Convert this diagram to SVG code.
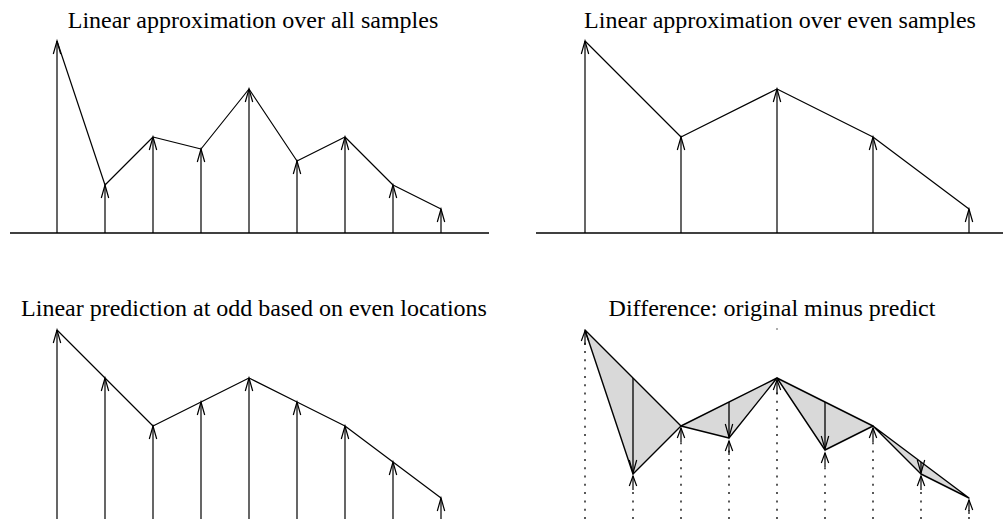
<svg xmlns="http://www.w3.org/2000/svg" width="1003" height="519" viewBox="0 0 1003 519">
<style>
.title{font-family:"Liberation Serif","Times New Roman",serif;font-size:24px;fill:#000;text-anchor:middle}
.axis{stroke:#000;stroke-width:1.3;fill:none}
.stem{stroke:#000;stroke-width:1.2;fill:none;marker-end:url(#head)}
.curve{stroke:#000;stroke-width:1.2;fill:none;stroke-linejoin:round}
.dot{stroke:#000;stroke-width:1.3;fill:none;stroke-dasharray:2 6.3}
.tri{fill:#d9d9d9;stroke:#000;stroke-width:1.4;stroke-linejoin:round}
.down{stroke:#000;stroke-width:1.3;fill:none;marker-end:url(#head)}
.up{stroke:#000;stroke-width:1.2;fill:none;marker-end:url(#head2)}
</style>
<defs>
<marker id="head" markerUnits="userSpaceOnUse" orient="auto" refX="0" refY="0" markerWidth="16" markerHeight="10" viewBox="-14 -5 16 10" overflow="visible">
<path d="M-13,-3.7 L0,0 L-13,3.7" fill="none" stroke="#000" stroke-width="1.2"/>
</marker>
<marker id="head2" markerUnits="userSpaceOnUse" orient="auto" refX="0" refY="0" markerWidth="16" markerHeight="10" viewBox="-14 -5 16 10" overflow="visible">
<path d="M-10,-3.7 L0,0 L-10,3.7" fill="none" stroke="#000" stroke-width="1.2"/>
</marker>
</defs>

<g id="panel-all">
<text class="title" x="253" y="28">Linear approximation over all samples</text>
<line class="axis" x1="10" y1="233" x2="489" y2="233"/>
<g id="stems-all">
<line class="stem" x1="57" y1="233" x2="57" y2="41"/>
<line class="stem" x1="105" y1="233" x2="105" y2="185"/>
<line class="stem" x1="153" y1="233" x2="153" y2="137"/>
<line class="stem" x1="201" y1="233" x2="201" y2="149"/>
<line class="stem" x1="249" y1="233" x2="249" y2="89"/>
<line class="stem" x1="297" y1="233" x2="297" y2="161"/>
<line class="stem" x1="345" y1="233" x2="345" y2="137"/>
<line class="stem" x1="393" y1="233" x2="393" y2="185"/>
<line class="stem" x1="441" y1="233" x2="441" y2="209"/>
</g>
<polyline class="curve" points="57,41 105,185 153,137 201,149 249,89 297,161 345,137 393,185 441,209"/>
</g>

<g id="panel-even">
<text class="title" x="780" y="28">Linear approximation over even samples</text>
<line class="axis" x1="536" y1="233" x2="1003" y2="233"/>
<g id="stems-even">
<line class="stem" x1="585" y1="233" x2="585" y2="41"/>
<line class="stem" x1="681" y1="233" x2="681" y2="137"/>
<line class="stem" x1="777" y1="233" x2="777" y2="89"/>
<line class="stem" x1="873" y1="233" x2="873" y2="137"/>
<line class="stem" x1="969" y1="233" x2="969" y2="209"/>
</g>
<polyline class="curve" points="585,41 681,137 777,89 873,137 969,209"/>
</g>

<g id="panel-predict">
<text class="title" x="254" y="316">Linear prediction at odd based on even locations</text>
<line class="axis" x1="10" y1="522" x2="489" y2="522"/>
<g id="stems-predict">
<line class="stem" x1="57" y1="522" x2="57" y2="330"/>
<line class="stem" x1="105" y1="522" x2="105" y2="378"/>
<line class="stem" x1="153" y1="522" x2="153" y2="426"/>
<line class="stem" x1="201" y1="522" x2="201" y2="402"/>
<line class="stem" x1="249" y1="522" x2="249" y2="378"/>
<line class="stem" x1="297" y1="522" x2="297" y2="402"/>
<line class="stem" x1="345" y1="522" x2="345" y2="426"/>
<line class="stem" x1="393" y1="522" x2="393" y2="462"/>
<line class="stem" x1="441" y1="522" x2="441" y2="498"/>
</g>
<polyline class="curve" points="57,330 105,378 153,426 201,402 249,378 297,402 345,426 393,462 441,498"/>
</g>

<g id="panel-difference">
<text class="title" x="772" y="316">Difference: original minus predict</text>
<g id="dotted-stems">
<line class="dot" x1="585" y1="519" x2="585" y2="340"/>
<line class="dot" x1="633" y1="519" x2="633" y2="486"/>
<line class="dot" x1="681" y1="519" x2="681" y2="438"/>
<line class="dot" x1="729" y1="519" x2="729" y2="450"/>
<line class="dot" x1="777" y1="519" x2="777" y2="390"/>
<line class="dot" x1="825" y1="519" x2="825" y2="462"/>
<line class="dot" x1="873" y1="519" x2="873" y2="438"/>
<line class="dot" x1="921" y1="519" x2="921" y2="486"/>
<line class="dot" x1="969" y1="519" x2="969" y2="510"/>
</g>
<g id="triangles">
<polygon class="tri" points="585,330 633,474 681,426"/>
<polygon class="tri" points="681,426 729,438 777,378"/>
<polygon class="tri" points="777,378 825,450 873,426"/>
<polygon class="tri" points="873,426 921,474 969,498"/>
</g>
<g id="up-heads">
<line class="up" x1="585" y1="345" x2="585" y2="331"/>
<line class="up" x1="633" y1="490" x2="633" y2="476"/>
<line class="up" x1="681" y1="442" x2="681" y2="428"/>
<line class="up" x1="729" y1="455" x2="729" y2="441"/>
<line class="up" x1="777" y1="394" x2="777" y2="380"/>
<line class="up" x1="825" y1="467" x2="825" y2="453"/>
<line class="up" x1="873" y1="442" x2="873" y2="428"/>
<line class="up" x1="921" y1="490" x2="921" y2="476"/>
<line class="up" x1="969" y1="514" x2="969" y2="500"/>
</g>
<g id="down-arrows">
<line class="down" x1="633" y1="378" x2="633" y2="473"/>
<line class="down" x1="729" y1="402" x2="729" y2="437"/>
<line class="down" x1="825" y1="402" x2="825" y2="449"/>
<line class="down" x1="921" y1="462" x2="921" y2="473"/>
</g>
<circle cx="777" cy="329" r="0.8" fill="#444"/>
</g>
</svg>
